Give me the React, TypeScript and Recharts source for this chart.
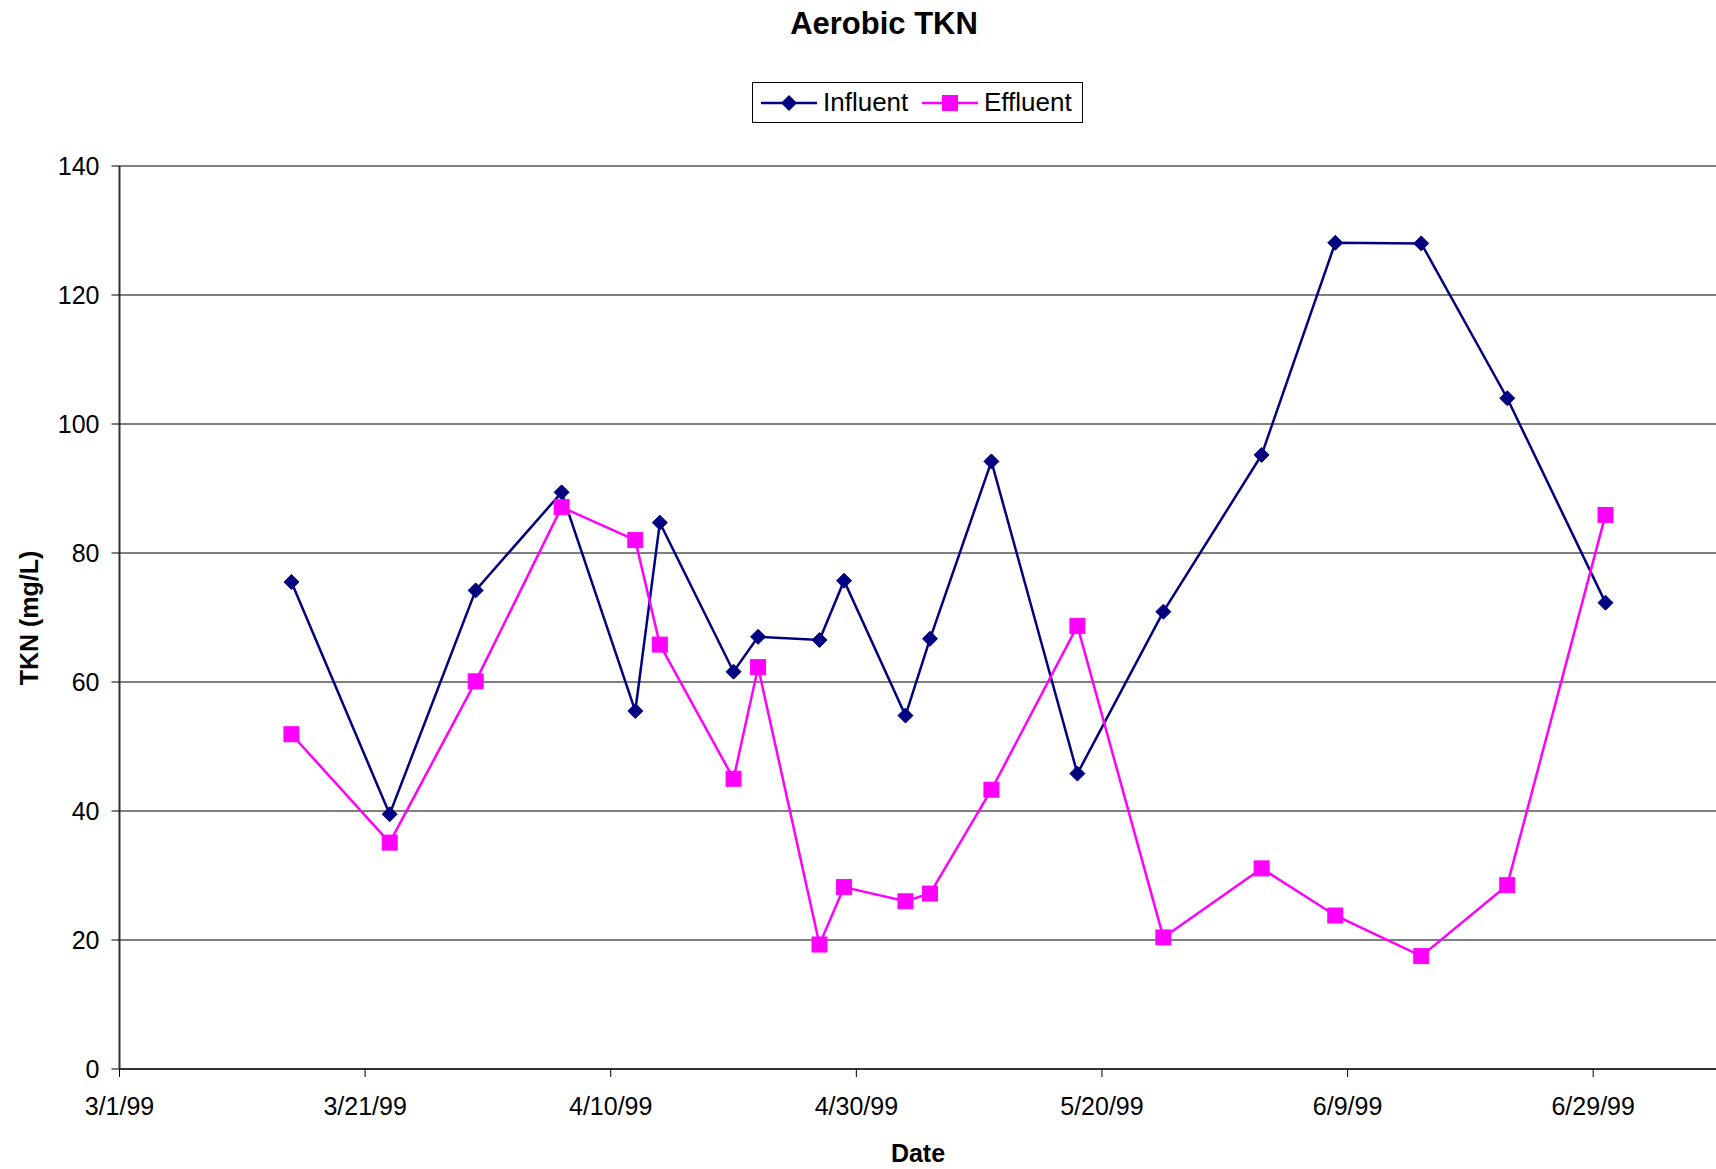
import React from 'react'
import {
  LineChart, Line, XAxis, YAxis, CartesianGrid, ReferenceLine,
} from 'recharts'

const sampleDates = [
  '3/15/99', '3/23/99', '3/30/99', '4/6/99', '4/12/99', '4/14/99', '4/20/99', '4/22/99',
  '4/27/99', '4/29/99', '5/4/99', '5/6/99', '5/11/99', '5/18/99', '5/25/99', '6/2/99',
  '6/8/99', '6/15/99', '6/22/99', '6/30/99',
]
const influent = [
  75.5, 39.5, 74.2, 89.4, 55.5, 84.7, 61.6, 67.0, 66.5, 75.7,
  54.8, 66.7, 94.2, 45.8, 70.9, 95.2, 128.1, 128.0, 104.0, 72.3,
]
const effluent = [
  51.9, 35.1, 60.1, 87.1, 82.0, 65.8, 45.0, 62.3, 19.3, 28.2,
  26.0, 27.2, 43.3, 68.7, 20.4, 31.1, 23.8, 17.5, 28.5, 85.9,
]
const xTickLabels = ['3/1/99', '3/21/99', '4/10/99', '4/30/99', '5/20/99', '6/9/99', '6/29/99']
const yTicks = [0, 20, 40, 60, 80, 100, 120, 140]

const NAVY = '#000080'
const MAGENTA = '#FF00FF'
const FONT = 'Liberation Sans, Arial, sans-serif'

// days since 3/1/99
const toDay = (s: string) => {
  const [m, d, y] = s.split('/').map(Number)
  return (Date.UTC(1900 + y, m - 1, d) - Date.UTC(1999, 2, 1)) / 86400000
}

const data = sampleDates.map((d, i) => ({ day: toDay(d), influent: influent[i], effluent: effluent[i] }))
const xTicks = xTickLabels.map(toDay)
const labelByDay: Record<number, string> = {}
xTickLabels.forEach((l) => { labelByDay[toDay(l)] = l })

const Diamond = (p: any) => {
  const { cx, cy } = p
  if (cx == null || cy == null) return <g />
  const r = 7.5
  return <path d={`M${cx},${cy - r}L${cx + r},${cy}L${cx},${cy + r}L${cx - r},${cy}Z`} fill={NAVY} stroke={NAVY} />
}

const Square = (p: any) => {
  const { cx, cy } = p
  if (cx == null || cy == null) return <g />
  const s = 7.5
  return <rect x={cx - s} y={cy - s} width={s * 2} height={s * 2} fill={MAGENTA} stroke={MAGENTA} />
}

export default function App() {
  return (
    <div style={{ position: 'fixed', left: 0, top: 0, width: 1716, height: 1169, background: '#fff', fontFamily: FONT }}>
      {/* title */}
      <div style={{ position: 'absolute', left: 684, width: 400, top: 6, textAlign: 'center', fontSize: 31, fontWeight: 'bold', lineHeight: '36px' }}>
        Aerobic TKN
      </div>

      {/* legend */}
      <div style={{ position: 'absolute', left: 752, top: 82, width: 329, height: 39, border: '1px solid #000', boxSizing: 'content-box' }}>
        <svg width={56} height={20} style={{ position: 'absolute', left: 8, top: 10 }}>
          <line x1={0} y1={10} x2={56} y2={10} stroke={NAVY} strokeWidth={2.5} />
          <path d="M28,2L36,10L28,18L20,10Z" fill={NAVY} />
        </svg>
        <span style={{ position: 'absolute', left: 70, top: 4, fontSize: 26, lineHeight: '30px' }}>Influent</span>
        <svg width={56} height={20} style={{ position: 'absolute', left: 169, top: 10 }}>
          <line x1={0} y1={10} x2={56} y2={10} stroke={MAGENTA} strokeWidth={2.5} />
          <rect x={20} y={2} width={16} height={16} fill={MAGENTA} />
        </svg>
        <span style={{ position: 'absolute', left: 231, top: 4, fontSize: 26, lineHeight: '30px' }}>Effluent</span>
      </div>

      {/* axis titles */}
      <div style={{ position: 'absolute', left: 818, width: 200, top: 1138, textAlign: 'center', fontSize: 25, fontWeight: 'bold', lineHeight: '30px' }}>
        Date
      </div>
      <div style={{
        position: 'absolute', left: 29, top: 618, transform: 'translate(-50%, -50%) rotate(-90deg)',
        fontSize: 25, fontWeight: 'bold', whiteSpace: 'nowrap', lineHeight: '30px',
      }}>
        TKN (mg/L)
      </div>

      <div style={{ position: 'absolute', left: 0, top: 0 }}>
        <LineChart width={1716} height={1169} data={data} margin={{ top: 166, right: 0, bottom: 70, left: 59.5 }}>
          <CartesianGrid vertical={false} stroke="#000" strokeWidth={1.2} />
          <XAxis
            type="number" dataKey="day" domain={[0, 130]} ticks={xTicks}
            tickFormatter={(v: number) => labelByDay[v] ?? ''}
            tick={{ fontSize: 25, fill: '#000', fontFamily: FONT }}
            tickSize={8} tickMargin={20} height={30}
            axisLine={{ stroke: '#333', strokeWidth: 2 }} tickLine={{ stroke: '#000' }}
            interval={0} allowDataOverflow
          />
          <YAxis
            type="number" domain={[0, 140]} ticks={yTicks} width={60}
            tick={{ fontSize: 25, fill: '#000', fontFamily: FONT }}
            tickSize={8} tickMargin={12}
            axisLine={{ stroke: '#333', strokeWidth: 2 }} tickLine={{ stroke: '#000' }}
            interval={0}
          />
          <ReferenceLine y={140} stroke="#808080" strokeWidth={2} />
          <Line
            type="linear" dataKey="influent" stroke={NAVY} strokeWidth={2.5}
            dot={Diamond} activeDot={false} isAnimationActive={false}
          />
          <Line
            type="linear" dataKey="effluent" stroke={MAGENTA} strokeWidth={2.5}
            dot={Square} activeDot={false} isAnimationActive={false}
          />
        </LineChart>
      </div>
    </div>
  )
}
